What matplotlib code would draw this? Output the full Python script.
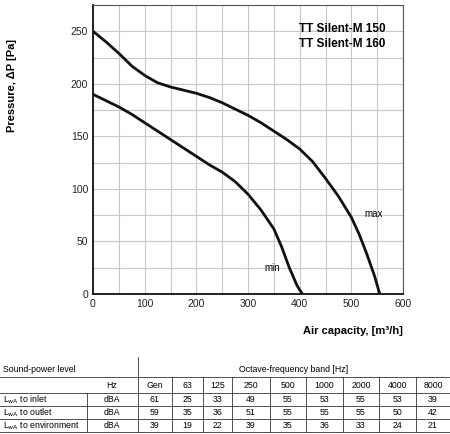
import matplotlib
matplotlib.use("Agg")
import matplotlib.pyplot as plt
from matplotlib.lines import Line2D

plt.rcParams['font.family'] = ['Liberation Sans', 'DejaVu Sans']

max_q = [0, 25, 50, 75, 100, 125, 150, 175, 200, 225, 250, 275, 300, 325, 350, 375, 400, 425, 450, 475, 500, 515, 530, 545, 555]
max_p = [250, 240, 229, 217, 208, 201, 197, 194, 191, 187, 182, 176, 170, 163, 155, 147, 138, 126, 110, 93, 73, 57, 38, 17, 0]
min_q = [0, 25, 50, 75, 100, 125, 150, 175, 200, 225, 250, 275, 300, 325, 350, 365, 380, 395, 405]
min_p = [190, 184, 178, 171, 163, 155, 147, 139, 131, 123, 116, 107, 95, 80, 62, 45, 25, 8, 0]

title_lines = ["TT Silent-M 150", "TT Silent-M 160"]
bands = ["Gen", "63", "125", "250", "500", "1000", "2000", "4000", "8000"]
rows = ["to inlet", "to outlet", "to environment"]
inlet = [61, 25, 33, 49, 55, 53, 55, 53, 39]
outlet = [59, 35, 36, 51, 55, 55, 55, 50, 42]
environment = [39, 19, 22, 39, 35, 36, 33, 24, 21]

W, H = 450, 434
fig = plt.figure(figsize=(4.5, 4.34), dpi=100)
ax = fig.add_axes([93/W, 1-294/H, 310/W, 289/H])
ax.plot(max_q, max_p, color='#111', lw=2)
ax.plot(min_q, min_p, color='#111', lw=2)
ax.set_xlim(0, 600); ax.set_ylim(0, 275)
ax.set_xticks(range(0, 601, 100)); ax.set_yticks(range(0, 251, 50))
ax.set_xticks(range(0, 601, 50), minor=True); ax.set_yticks(range(0, 276, 25), minor=True)
ax.grid(which='both', color='#c8c8c8', lw=0.8)
ax.tick_params(which='both', length=0, labelsize=7.5, colors='#222')
for s in ax.spines.values():
    s.set_color('#555')
ax.spines['bottom'].set_color('#111'); ax.spines['bottom'].set_linewidth(1.3)
ax.spines['left'].set_color('#111'); ax.spines['left'].set_linewidth(1.3)
ax.set_ylabel("Pressure, ΔP [Pa]", fontsize=8, fontweight='bold', labelpad=14)
ax.yaxis.set_label_coords(-0.245, 0.72)
ax.text(1.0, -0.14, "Air capacity, [m³/h]", transform=ax.transAxes, ha='right', fontsize=8, fontweight='bold')
ax.text(398, 252, title_lines[0], fontsize=8.5, fontweight='bold', va='center')
ax.text(398, 238, title_lines[1], fontsize=8.5, fontweight='bold', va='center')
ax.text(525, 73, "max", fontsize=7)
ax.text(332, 22, "min", fontsize=7)

def fx(px): return px / W
def fy(py): return 1 - py / H
def hline(y, x0, x1, lw=0.6):
    fig.add_artist(Line2D([fx(x0), fx(x1)], [fy(y), fy(y)], color='#333', lw=lw))
def vline(x, y0, y1, lw=0.6):
    fig.add_artist(Line2D([fx(x), fx(x)], [fy(y0), fy(y1)], color='#333', lw=lw))

cols = [138, 172, 203, 232, 270, 306, 343, 379, 416, 450]
hline(377, 0, 450); hline(393, 0, 450); hline(406, 0, 450); hline(419, 0, 450); hline(432, 0, 450)
vline(138, 357, 432)
vline(87, 393, 432)
for c in cols[1:-1]:
    vline(c, 377, 432)
fs = 6.3
fig.text(fx(3), fy(370), "Sound-power level", fontsize=fs, va='center')
fig.text(fx(294), fy(370), "Octave-frequency band [Hz]", fontsize=fs, ha='center', va='center')
fig.text(fx(112), fy(385), "Hz", fontsize=fs, ha='center', va='center')
for i, b in enumerate(bands):
    fig.text(fx((cols[i]+cols[i+1])/2), fy(385), b, fontsize=fs, ha='center', va='center')
for r, (name, vals) in enumerate(zip(rows, [inlet, outlet, environment])):
    y = [399.5, 412.5, 425.5][r]
    fig.text(fx(3), fy(y), r"L$_{\mathrm{wA}}$ " + name, fontsize=fs, va='center')
    fig.text(fx(112), fy(y), "dBA", fontsize=fs, ha='center', va='center')
    for i, v in enumerate(vals):
        fig.text(fx((cols[i]+cols[i+1])/2), fy(y), str(v), fontsize=fs, ha='center', va='center')

fig.savefig("out.png", dpi=100)
